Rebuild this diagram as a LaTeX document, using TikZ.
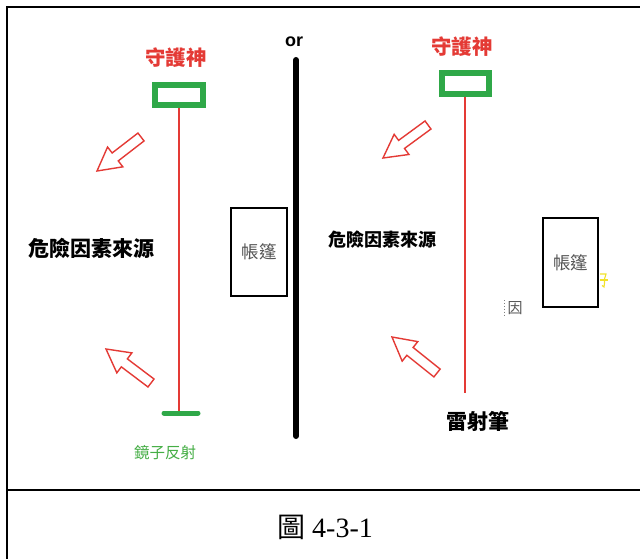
\documentclass[tikz,border=0pt]{standalone}
\usepackage{fontspec}
\usetikzlibrary{calc}
\setmainfont{Liberation Serif}
\newfontfamily\cjk{Noto Sans CJK TC}
\newfontfamily\latinsans{Liberation Sans}
\definecolor{myred}{HTML}{E43A35}
\definecolor{mygreen}{HTML}{2FA848}
\definecolor{mirrortext}{HTML}{45AE45}
\definecolor{tentgray}{HTML}{555555}
\definecolor{yellowmark}{HTML}{F2E22A}
\tikzset{
  frameline/.style={line width=2.8pt},
  guard/.style={draw=mygreen, line width=6pt, fill=white, inner sep=0pt},
  laser/.style={draw=myred, line width=1.4pt},
  mirrorbar/.style={draw=mygreen, line width=5pt, line cap=round},
  wall/.style={line width=6pt, line cap=round},
  tentbox/.style={draw=black, line width=2pt, inner sep=0pt, text=tentgray, font=\cjk\fontsize{17.5}{17.5}\selectfont},
  redlbl/.style={text=myred, inner sep=0pt, font=\cjk\bfseries\fontsize{20.5}{20.5}\selectfont},
  blacklbl/.style={text=black, inner sep=0pt, font=\cjk\bfseries\fontsize{21}{21}\selectfont},
  greenlbl/.style={text=mirrortext, inner sep=0pt, font=\cjk\fontsize{15.5}{15.5}\selectfont},
  hollow/.style={draw=myred, line width=1.4pt, line join=miter},
  squiggle/.style={draw=yellowmark, line width=1.1pt},
}
\newcommand\hollowarrow[3]{%
  \coordinate (#1S) at (#2);
  \coordinate (#1T) at (#3);
  \coordinate (#1B) at ($(#1T)!23pt!(#1S)$);
  \draw[hollow] (#1T) -- ($(#1B)!12.5pt!90:(#1T)$) -- ($(#1B)!5pt!90:(#1T)$)
     -- ($(#1S)!5pt!90:(#1T)$) -- ($(#1S)!5pt!-90:(#1T)$)
     -- ($(#1B)!5pt!-90:(#1T)$) -- ($(#1B)!12.5pt!-90:(#1T)$) -- cycle;
}
\begin{document}
\begin{tikzpicture}[x=1pt,y=-1pt]
\useasboundingbox (0,0) rectangle (640,559);
\clip (0,0) rectangle (640,559);
\fill[white] (0,0) rectangle (640,559);
% frame
\coordinate (fbl) at (7,570);
\coordinate (ftl) at (7,7);
\coordinate (ftr) at (650,7);
\coordinate (dl) at (7,490);
\coordinate (dr) at (650,490);
\draw[frameline] (fbl) -- (ftl) -- (ftr);
\draw[frameline] (dl) -- (dr);

% ---------- left half ----------
\node[redlbl] (g1lbl) at (176,58) {守護神};
\node[guard, minimum width=48pt, minimum height=20pt] (g1) at (179,95) {};
\coordinate (m1) at (179,413);
\draw[laser] (g1.south) -- (m1);
\coordinate (m1a) at (164,413);
\coordinate (m1b) at (198,413);
\draw[mirrorbar] (m1a) -- (m1b);
\node[greenlbl] (m1lbl) at (165,453) {鏡子反射};
\node[blacklbl] (d1) at (91,248) {危險因素來源};
\hollowarrow{a1}{141,137}{97,171}
\hollowarrow{a2}{151,383}{106,349}
\node[tentbox, minimum width=56pt, minimum height=88pt] (t1) at (259,252) {帳篷};

% separator
\node[inner sep=0pt, font=\latinsans\bfseries\fontsize{18}{18}\selectfont] (or) at (294,42) {or};
\coordinate (w1) at (296,60);
\coordinate (w2) at (296,436);
\draw[wall] (w1) -- (w2);

% ---------- right half ----------
\node[redlbl] (g2lbl) at (462,47) {守護神};
\node[guard, minimum width=47pt, minimum height=21pt] (g2) at (465,83.5) {};
\coordinate (l2) at (465,393);
\draw[laser] (g2.south) -- (l2);
\node[blacklbl] (l2lbl) at (478,421) {雷射筆};
\node[blacklbl, font=\cjk\bfseries\fontsize{18}{18}\selectfont] (d2) at (382,240) {危險因素來源};
\hollowarrow{a3}{428,125}{383,158}
\hollowarrow{a4}{437,373}{392,337}
\node[tentbox, minimum width=55pt, minimum height=89pt] (t2) at (570.5,262.5) {帳篷};
\node[inner sep=0pt, text=tentgray, font=\cjk\fontsize{15}{15}\selectfont] (yin) at (515,308) {因};
\coordinate (dt1) at (504,300);
\coordinate (dt2) at (504,316);
\draw[gray, dotted, line width=0.9pt] (dt1) -- (dt2);
\coordinate (y1) at (600,274);
\coordinate (y2) at (606,274);
\coordinate (y3) at (604,287);
\draw[squiggle] (y1) -- (y2) -- (604.5,279) .. controls (604.5,284) .. (y3) -- (602,285.5);
\draw[squiggle] (599.5,280) -- (608,280);

% caption
\node[inner sep=0pt, font=\fontsize{28}{28}\selectfont] (cap) at (325,527) {{\cjk 圖} 4-3-1};
\end{tikzpicture}
\end{document}
